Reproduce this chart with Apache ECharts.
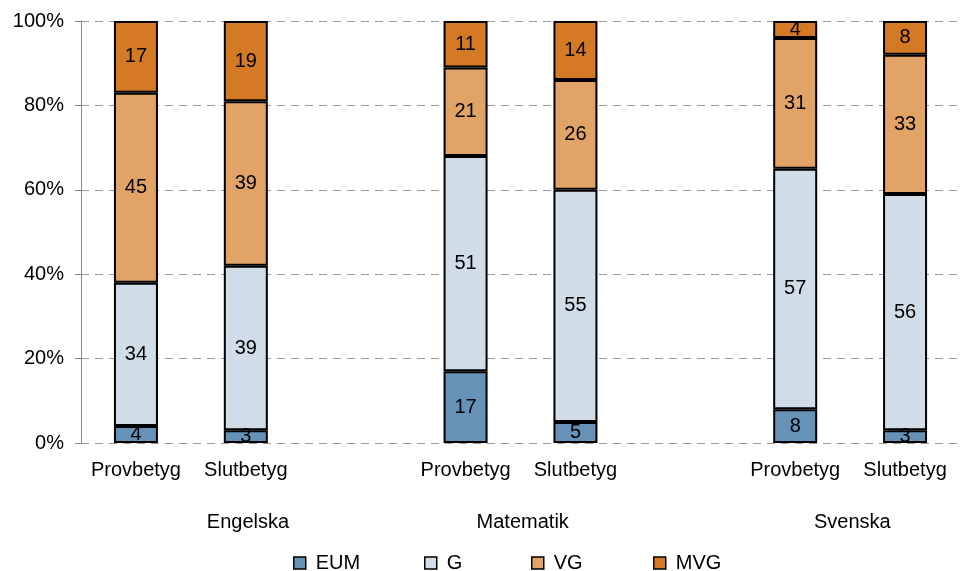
<!DOCTYPE html>
<html>
<head>
<meta charset="utf-8">
<script src="https://cdn.jsdelivr.net/npm/echarts@6/dist/echarts.min.js"></script>
<style>html,body{margin:0;padding:0;background:#fff}#c{width:960px;height:571px}</style>
</head>
<body>
<div id="c"></div>
<script>
const categories = ['Provbetyg','Slutbetyg','','Provbetyg','Slutbetyg','','Provbetyg','Slutbetyg'];
const groups = ['Engelska','Matematik','Svenska'];
const groupPositions = [1.52,4.02,7.02];
const seriesNames = ['EUM','G','VG','MVG'];
// values per bar: Engelska Prov, Engelska Slut, Matematik Prov, Matematik Slut, Svenska Prov, Svenska Slut
const eum = [4,3,17,5,8,3];
const g   = [34,39,51,55,57,56];
const vg  = [45,39,21,26,31,33];
const mvg = [17,19,11,14,4,8];
const colors = ['#6592b6','#d0dde8','#e2a366','#d47a24'];
const legendLefts = [288,419,526,648];

function withGaps(arr){
  const out=[];let k=0;
  categories.forEach(c=>{ if(c===''){out.push('-');} else {out.push(arr[k++]);} });
  return out;
}
const values=[eum,g,vg,mvg];
const font='Liberation Sans, Arial, sans-serif';
const chart=echarts.init(document.getElementById('c'),null,{renderer:'canvas'});
chart.setOption({
  animation:false,
  textStyle:{fontFamily:font,color:'#000'},
  grid:{left:81,right:0,top:21,bottom:128,containLabel:false},
  legend:seriesNames.map((n,i)=>({
    data:[n], left:legendLefts[i], top:548, icon:'rect', itemWidth:12, itemHeight:12,
    selectedMode:false,
    textStyle:{fontSize:20,color:'#000',fontFamily:font,padding:[0,0,0,5]},
    itemStyle:{borderColor:'#000',borderWidth:1.5}
  })),
  xAxis:[{
    type:'category', data:categories, axisLine:{show:false}, axisTick:{show:false},
    axisLabel:{interval:0,margin:17,fontSize:20,color:'#000',fontFamily:font}
  },{
    type:'value', min:0, max:8, position:'bottom', axisLine:{show:false}, axisTick:{show:false},
    splitLine:{show:false},
    axisLabel:{customValues:groupPositions, margin:69, fontSize:20, color:'#000', fontFamily:font,
      formatter:function(v){let best=0;groupPositions.forEach((p,i)=>{if(Math.abs(p-v)<Math.abs(groupPositions[best]-v))best=i;});return groups[best];}}
  }],
  yAxis:{
    type:'value', min:0, max:100, interval:20,
    axisLine:{show:true,lineStyle:{color:'#888',width:1}},
    axisTick:{show:true,length:6,lineStyle:{color:'#888'}},
    axisLabel:{formatter:'{value}%',fontSize:20,color:'#000',margin:17,fontFamily:font},
    splitLine:{show:true,lineStyle:{color:'#999',type:[8,6],width:1}}
  },
  series:seriesNames.map((n,i)=>({
    name:n, type:'bar', stack:'s', barWidth:44, xAxisIndex:0,
    data:withGaps(values[i]),
    itemStyle:{color:colors[i],borderColor:'#000',borderWidth:2},
    label:{show:true,position:'inside',fontSize:20,color:'#000',fontFamily:font}
  }))
});
</script>
</body>
</html>
